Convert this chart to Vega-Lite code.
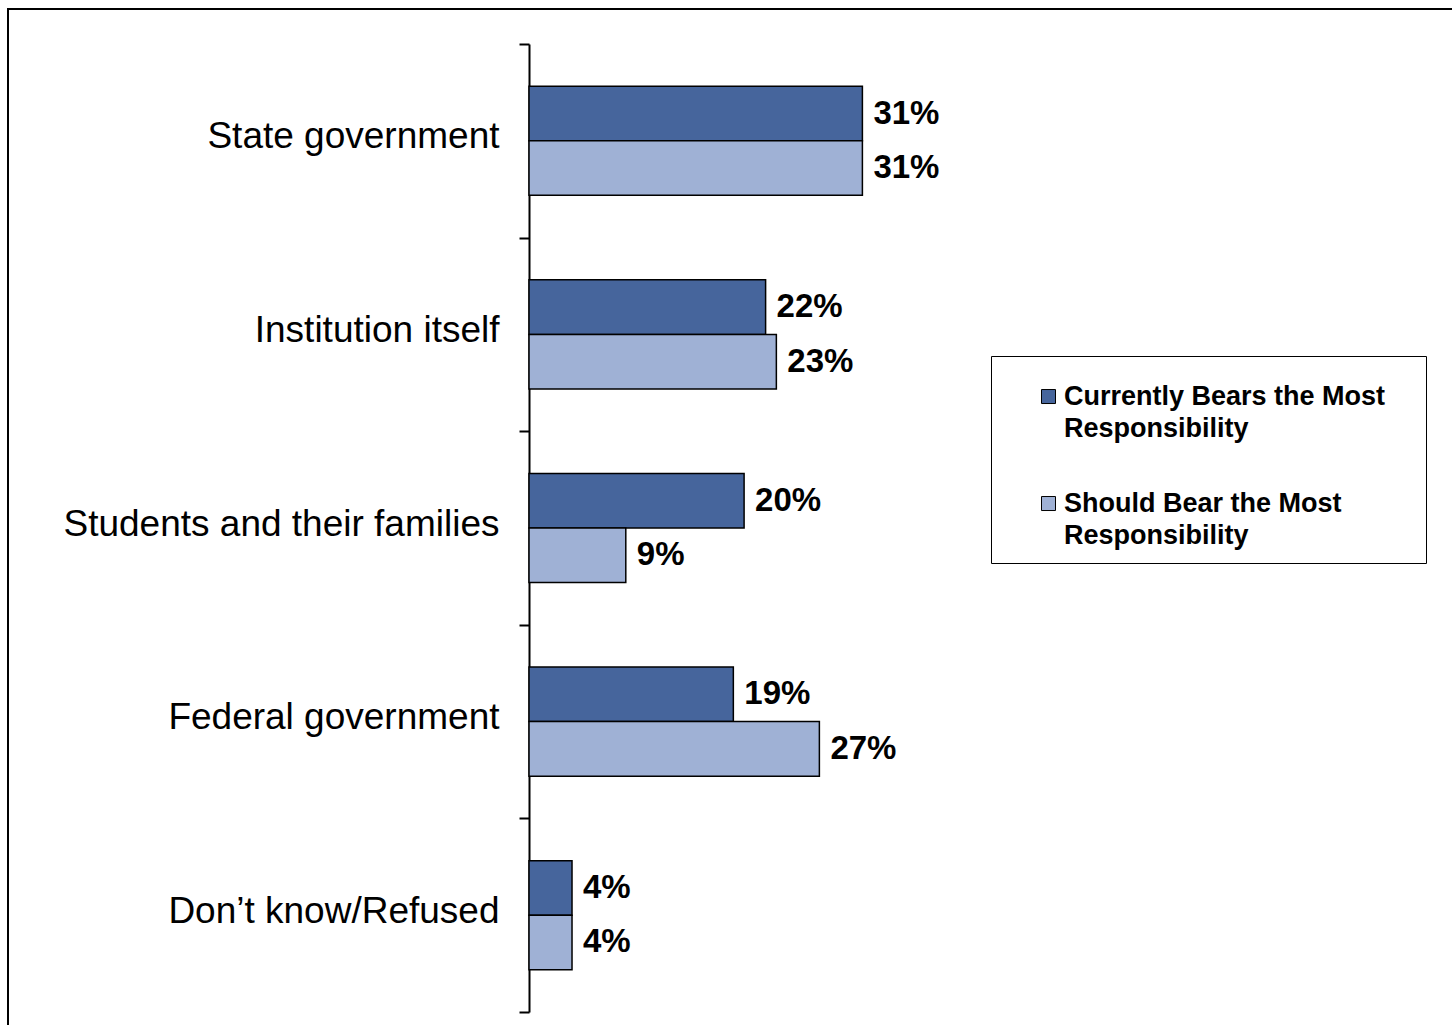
{
  "$schema": "https://vega.github.io/schema/vega-lite/v6.json",
  "width": 1444,
  "height": 1016,
  "autosize": {"type": "none"},
  "padding": {"left": 8, "top": 9, "right": 0, "bottom": 0},
  "background": "white",
  "config": {
    "view": {"stroke": "black", "strokeWidth": 2, "strokeDash": [1444, 2460, 1016]},
    "font": "Liberation Sans",
    "style": {"guide-label": {"lineHeight": 32}}
  },
  "data": {
    "values": [
      {"category": "State government", "series": "Currently Bears the Most Responsibility", "value": 0.31},
      {"category": "State government", "series": "Should Bear the Most Responsibility", "value": 0.31},
      {"category": "Institution itself", "series": "Currently Bears the Most Responsibility", "value": 0.22},
      {"category": "Institution itself", "series": "Should Bear the Most Responsibility", "value": 0.23},
      {"category": "Students and their families", "series": "Currently Bears the Most Responsibility", "value": 0.20},
      {"category": "Students and their families", "series": "Should Bear the Most Responsibility", "value": 0.09},
      {"category": "Federal government", "series": "Currently Bears the Most Responsibility", "value": 0.19},
      {"category": "Federal government", "series": "Should Bear the Most Responsibility", "value": 0.27},
      {"category": "Don’t know/Refused", "series": "Currently Bears the Most Responsibility", "value": 0.04},
      {"category": "Don’t know/Refused", "series": "Should Bear the Most Responsibility", "value": 0.04}
    ]
  },
  "encoding": {
    "y": {
      "field": "category",
      "type": "nominal",
      "sort": ["State government", "Institution itself", "Students and their families", "Federal government", "Don’t know/Refused"],
      "scale": {"range": [35, 1003], "paddingInner": 0, "paddingOuter": 0},
      "axis": {
        "title": null,
        "offset": -521,
        "domainColor": "black",
        "domainWidth": 2,
        "tickColor": "black",
        "tickWidth": 2,
        "tickSize": 10,
        "tickBand": "extent",
        "labelFontSize": 37,
        "labelColor": "black",
        "labelPadding": 20,
        "labelOffset": -4,
        "labelFont": "Liberation Sans",
        "labelLimit": 0,
        "grid": false
      }
    },
    "yOffset": {
      "field": "series",
      "type": "nominal",
      "sort": ["Currently Bears the Most Responsibility", "Should Bear the Most Responsibility"],
      "scale": {"paddingInner": 0, "paddingOuter": 0.775}
    },
    "x": {
      "field": "value",
      "type": "quantitative",
      "scale": {"domain": [0, 0.31], "range": [521, 854.4]},
      "axis": null
    }
  },
  "layer": [
    {
      "mark": {"type": "bar", "stroke": "black", "strokeWidth": 1.5},
      "encoding": {
        "color": {
          "field": "series",
          "type": "nominal",
          "scale": {
            "domain": ["Currently Bears the Most Responsibility", "Should Bear the Most Responsibility"],
            "range": ["#46659C", "#9FB1D5"]
          },
          "legend": {
            "orient": "none",
            "legendX": 983,
            "legendY": 347,
            "title": "\u00a0",
            "titleOrient": "right",
            "titleFontSize": 1,
            "titlePadding": 27,
            "strokeColor": "black",
            "fillColor": "white",
            "padding": 14,
            "symbolOffset": 30,
            "symbolType": "M-1,0.86H1V2.86H-1Z",
            "symbolSize": 196,
            "symbolStrokeColor": "black",
            "symbolStrokeWidth": 1,
            "symbolOpacity": 1,
            "labelFontSize": 27,
            "labelFontWeight": "bold",
            "labelFont": "Liberation Sans",
            "labelColor": "black",
            "labelOffset": 2,
            "labelLimit": 0,
            "labelBaseline": "top",
            "rowPadding": 35,
            "labelExpr": "datum.label == 'Currently Bears the Most Responsibility' ? ['Currently Bears the Most', 'Responsibility'] : ['Should Bear the Most', 'Responsibility']"
          }
        }
      }
    },
    {
      "mark": {"type": "text", "align": "left", "baseline": "middle", "dx": 11, "fontSize": 33, "fontWeight": "bold", "color": "black", "font": "Liberation Sans"},
      "encoding": {
        "text": {"field": "value", "type": "quantitative", "format": ".0%"}
      }
    }
  ]
}
